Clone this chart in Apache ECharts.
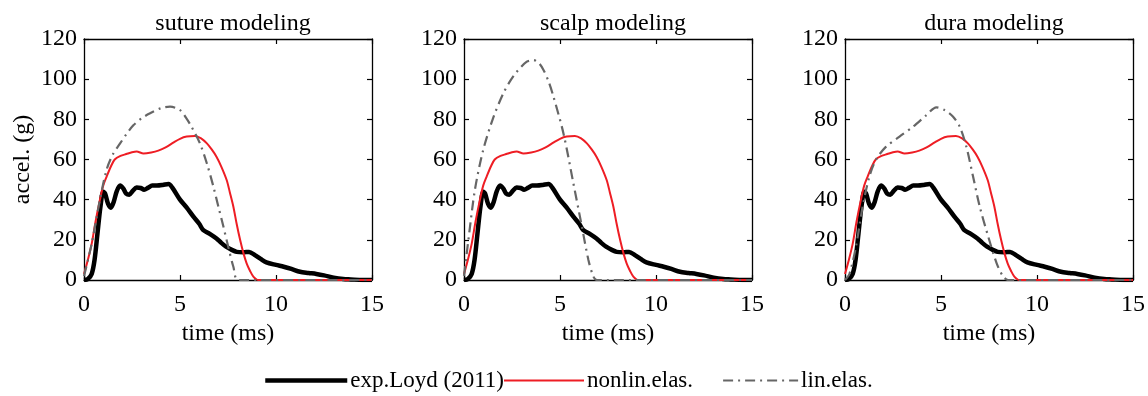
<!DOCTYPE html>
<html>
<head>
<meta charset="utf-8">
<script src="https://cdn.jsdelivr.net/npm/echarts@6/dist/echarts.min.js"></script>
<style>
html,body{margin:0;padding:0;background:#fff;}
#c{width:1148px;height:396px;}
</style>
</head>
<body>
<div id="c"></div>
<script>
// ---- data ----
const panelTitles = ['suture modeling', 'scalp modeling', 'dura modeling'];
const seriesNames = ['exp.Loyd (2011)', 'nonlin.elas.', 'lin.elas.'];
const xTicks = [0, 5, 10, 15];
const yTicks = [0, 20, 40, 60, 80, 100, 120];

// experimental (same in all panels)
const expT = [0, 0.2, 0.4, 0.55, 0.7, 0.85, 1.0, 1.1, 1.25, 1.4, 1.55, 1.7, 1.88, 2.05, 2.2, 2.36, 2.55, 2.74, 2.95, 3.13, 3.35, 3.55, 3.8, 4.1, 4.4, 4.6, 5.0, 5.35, 5.7, 6.0, 6.2, 6.55, 6.9, 7.15, 7.4, 7.7, 7.95, 8.3, 8.6, 8.9, 9.2, 9.5, 10.0, 10.4, 10.8, 11.25, 11.7, 12.1, 12.5, 13.0, 13.5, 13.9, 14.5, 15];
const expA = [0, 0.5, 3, 10, 23, 36, 44, 43, 38, 36, 39, 44, 47, 45.5, 43, 42.5, 44.5, 46, 45.8, 45, 46, 47, 47, 47.3, 47.8, 46, 40, 36, 31.5, 28, 25, 23, 20.7, 18.5, 16.6, 15, 14, 13.8, 14, 12.4, 10.5, 8.8, 7.5, 6.6, 5.5, 4.1, 3.5, 3, 2.3, 1.2, 0.5, 0.3, 0, 0];

// nonlinear elastic (same in all panels)
const nonT = [0, 0.2, 0.4, 0.6, 0.83, 1.0, 1.18, 1.4, 1.6, 1.9, 2.2, 2.5, 2.74, 3.1, 3.5, 3.87, 4.25, 4.65, 5.0, 5.35, 5.78, 6.1, 6.4, 6.65, 6.9, 7.15, 7.43, 7.6, 7.78, 7.95, 8.13, 8.3, 8.47, 8.65, 8.82, 9.08, 12, 15];
const nonA = [3, 10, 18, 29, 40, 47, 51.5, 56.5, 60, 61.8, 62.7, 63.6, 64, 63, 63.5, 64.4, 66, 68.4, 70.3, 71.4, 71.7, 70.5, 68, 65, 61.4, 56.5, 49.8, 43.5, 36.5, 28, 20, 13.5, 8.3, 4.5, 1.7, 0, 0, 0];

// linear elastic, per panel
const linSutureT = [0, 0.4, 0.83, 1.18, 1.5, 1.88, 2.2, 2.57, 3.0, 3.44, 4.0, 4.48, 5.0, 5.3, 5.6, 6.04, 6.4, 6.74, 7.0, 7.26, 7.5, 7.78, 8.04, 15];
const linSutureA = [2, 18, 40, 55, 62.5, 68, 72.5, 77, 80.5, 83, 85.5, 86.3, 84.6, 81, 76.3, 68, 58, 46.5, 36.5, 26.6, 17, 6.6, 0, 0];
const linScalpT = [0, 0.23, 0.57, 1.0, 1.53, 2.05, 2.4, 2.75, 3.27, 3.62, 3.9, 4.14, 4.4, 4.66, 5.18, 5.7, 6.14, 6.48, 6.74, 6.92, 15];
const linScalpA = [2, 20, 45, 64.7, 81, 93, 99, 103.7, 108.7, 109.5, 108, 104.6, 99, 91.3, 73, 48, 26.6, 10, 1.7, 0, 0];
const linDuraT = [0, 0.23, 0.57, 0.92, 1.27, 1.62, 2.14, 2.84, 3.54, 4.23, 4.76, 5.19, 5.63, 5.98, 6.32, 6.67, 7.02, 7.46, 7.9, 8.24, 8.5, 15];
const linDuraA = [0, 3, 16.6, 36.5, 51.5, 60, 66.4, 71.4, 76.3, 82, 86, 84.6, 81.3, 76.3, 66.4, 51.5, 36.5, 21.6, 8.3, 1.7, 0, 0];

// ---- chart ----
const FONT = '"Liberation Serif", "Times New Roman", serif';
const zip = (t, a) => t.map((v, i) => [v, a[i]]);
const linData = [zip(linSutureT, linSutureA), zip(linScalpT, linScalpA), zip(linDuraT, linDuraA)];
const expData = zip(expT, expA);
const nonData = zip(nonT, nonA);

const styles = [
  {color: '#000000', width: 4.5, type: 'solid'},
  {color: '#ee1d24', width: 2, type: 'solid'},
  {color: '#666666', width: 2.2, type: [10, 5, 2, 5]}
];

const gridLefts = [84, 464, 845];
const gridW = 288, gridTop = 39, gridH = 241;

const grids = [], xAxes = [], yAxes = [], series = [], titles = [];
gridLefts.forEach((L, p) => {
  grids.push({left: L, top: gridTop, width: gridW, height: gridH, containLabel: false});
  titles.push({
    text: panelTitles[p], left: L + gridW / 2, top: 7, textAlign: 'center',
    textStyle: {fontFamily: FONT, fontSize: 24, fontWeight: 'normal', color: '#000'}
  });
  const axLine = {show: true, onZero: false, lineStyle: {color: '#000', width: 1.3}};
  const tick = {show: true, inside: true, length: 5, lineStyle: {color: '#000', width: 1.2}};
  xAxes.push({
    gridIndex: p, type: 'value', min: xTicks[0], max: xTicks[xTicks.length - 1], interval: 5,
    position: 'bottom', axisLine: axLine, axisTick: tick, splitLine: {show: false},
    axisLabel: {fontFamily: FONT, fontSize: 24, color: '#000', margin: 13},
    name: 'time (ms)', nameLocation: 'middle', nameGap: 39,
    nameTextStyle: {fontFamily: FONT, fontSize: 24, color: '#000'}
  });
  xAxes.push({
    gridIndex: p, type: 'value', min: 0, max: 15, interval: 5, position: 'top',
    axisLine: axLine, axisTick: tick, splitLine: {show: false}, axisLabel: {show: false}
  });
  yAxes.push({
    gridIndex: p, type: 'value', min: yTicks[0], max: yTicks[yTicks.length - 1], interval: 20,
    position: 'left', axisLine: axLine, axisTick: tick, splitLine: {show: false},
    axisLabel: {fontFamily: FONT, fontSize: 24, color: '#000', margin: 7},
    name: p === 0 ? 'accel. (g)' : '', nameLocation: 'middle', nameGap: 49,
    nameTextStyle: {fontFamily: FONT, fontSize: 24, color: '#000'}
  });
  yAxes.push({
    gridIndex: p, type: 'value', min: 0, max: 120, interval: 20, position: 'right',
    axisLine: axLine, axisTick: tick, splitLine: {show: false}, axisLabel: {show: false}
  });
  const xi = p * 2, yi = p * 2;
  const datas = [expData, nonData, linData[p]];
  datas.forEach((d, k) => {
    series.push({
      name: seriesNames[k], type: 'line', xAxisIndex: xi, yAxisIndex: yi, data: d,
      showSymbol: false, symbol: 'none', smooth: 0.3, z: 3 + k,
      lineStyle: Object.assign({}, styles[k]), itemStyle: {color: styles[k].color}
    });
  });
});

const legendPos = [263, 503, 722];
const legendW = [82, 80, 75];
const legends = seriesNames.map((n, i) => ({
  data: [n], left: legendPos[i], top: 369, padding: 0, itemGap: 0,
  itemWidth: legendW[i], itemHeight: 14, selectedMode: false,
  itemStyle: {opacity: 0, borderWidth: 0},
  lineStyle: Object.assign({}, styles[i]),
  textStyle: {fontFamily: FONT, fontSize: 23, color: '#000', padding: [0, 0, 0, -2]}
}));

const chart = echarts.init(document.getElementById('c'), null, {renderer: 'canvas'});
chart.setOption({
  animation: false,
  backgroundColor: '#fff',
  title: titles,
  legend: legends,
  grid: grids,
  xAxis: xAxes,
  yAxis: yAxes,
  series: series
});
</script>
</body>
</html>
